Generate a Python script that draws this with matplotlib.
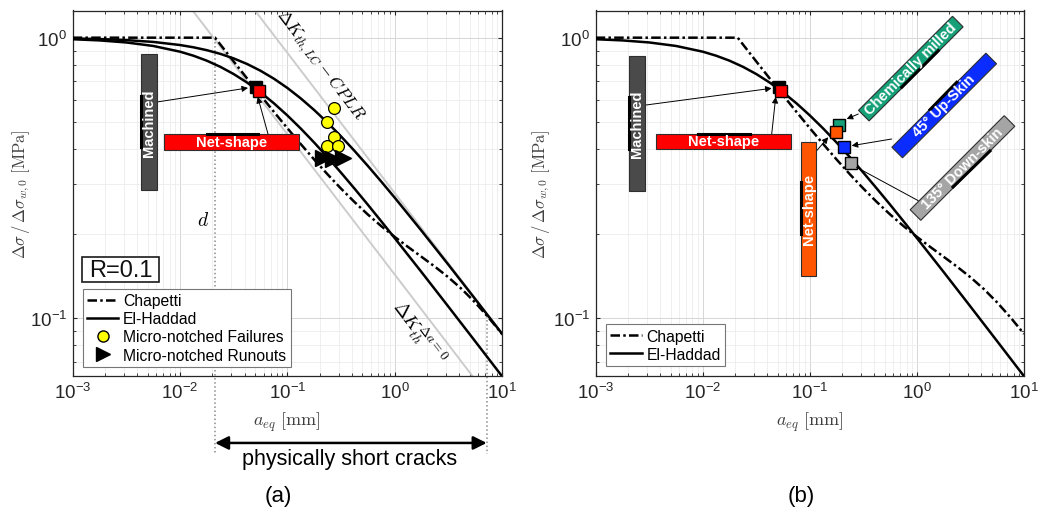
import numpy as np
import matplotlib
matplotlib.use('Agg')
import matplotlib.pyplot as plt
from matplotlib.patches import Rectangle
from matplotlib.lines import Line2D
from matplotlib.ticker import LogLocator, NullFormatter

plt.rcParams['font.family'] = ['Liberation Sans', 'DejaVu Sans']
plt.rcParams['mathtext.fontset'] = 'cm'

# ---------------- data ----------------
a_eq = [0.001, 0.001778, 0.003162, 0.005623, 0.01, 0.013335, 0.01778, 0.023714,
        0.03162, 0.04217, 0.05623, 0.07499, 0.1, 0.13335, 0.1778, 0.23714,
        0.3162, 0.4217, 0.5623, 0.7499, 1.0, 1.778, 3.162, 5.623, 10.0]
el_haddad_lower = [0.9873, 0.9778, 0.9615, 0.9344, 0.8914, 0.8624, 0.8278, 0.7874,
                   0.7418, 0.6918, 0.6385, 0.5834, 0.5282, 0.4743, 0.4228, 0.3746,
                   0.3302, 0.2899, 0.2538, 0.2215, 0.1930, 0.1460, 0.1100, 0.0827, 0.0621]
el_haddad_upper = [0.9937, 0.9888, 0.9803, 0.9658, 0.9415, 0.9241, 0.9024, 0.8757,
                   0.8435, 0.8057, 0.7623, 0.7140, 0.6620, 0.6075, 0.5522, 0.4975,
                   0.4448, 0.3951, 0.3490, 0.3069, 0.2690, 0.2050, 0.1552, 0.1170, 0.0880]
chapetti_x = [0.001, 0.0212, 0.0237, 0.03162, 0.04217, 0.05623, 0.07499, 0.1, 0.13335,
              0.1778, 0.23714, 0.3162, 0.4217, 0.5623, 0.7499, 1.0, 1.3335, 1.778,
              2.371, 3.162, 4.217, 5.623, 7.499, 10.0]
chapetti_y = [1.0, 1.0, 0.9465, 0.8224, 0.7154, 0.6232, 0.5439, 0.4758, 0.4175,
              0.3678, 0.3255, 0.2897, 0.2596, 0.2342, 0.2129, 0.1949, 0.1794, 0.1655,
              0.1526, 0.1399, 0.1270, 0.1137, 0.1005, 0.0879]
dk_th0_x = [0.0131, 5.3]
dk_th0_y = [1.25, 0.0622]
dk_lc_x = [0.0499, 10.0]
dk_lc_y = [1.25, 0.0883]
d_intrinsic = 0.0212
short_crack_end = 7.2

fail_x = [0.2715, 0.2339, 0.274, 0.2355, 0.2985]
fail_y = [0.5616, 0.5006, 0.4416, 0.412, 0.410]
runout_x = [0.214, 0.265, 0.333]
runout_y = [0.3715, 0.368, 0.3715]

machined_pt = (0.051, 0.668)
netshape_pt = (0.054, 0.644)
chem_pt = (0.188, 0.489)
netshape2_pt = (0.174, 0.462)
up45_pt = (0.210, 0.409)
down135_pt = (0.241, 0.357)

# ---------------- figure ----------------
W, H = 1040, 510
fig = plt.figure(figsize=(W / 100, H / 100), dpi=100)
axL = fig.add_axes([72.7 / W, (H - 377) / H, 429.3 / W, 365.5 / H])
axR = fig.add_axes([595.7 / W, (H - 377) / H, 428.3 / W, 365.5 / H])

DASHDOT = (0, (3.8, 1.3, 1.0, 1.3))
LW = 1.8
SQ = 8.2

for ax in (axL, axR):
    ax.set_xscale('log')
    ax.set_yscale('log')
    ax.set_xlim(1e-3, 10)
    ax.set_ylim(0.0622, 1.25)
    ax.xaxis.set_major_locator(LogLocator(base=10, numticks=10))
    ax.xaxis.set_minor_locator(LogLocator(base=10, subs=np.arange(2, 10), numticks=10))
    ax.yaxis.set_major_locator(LogLocator(base=10, numticks=10))
    ax.yaxis.set_minor_locator(LogLocator(base=10, subs=np.arange(2, 10), numticks=10))
    ax.xaxis.set_minor_formatter(NullFormatter())
    ax.yaxis.set_minor_formatter(NullFormatter())
    ax.grid(True, which='major', color='#d6d6d6', lw=0.7)
    ax.grid(True, which='minor', color='#ececec', lw=0.6)
    ax.set_axisbelow(True)
    ax.tick_params(which='both', direction='in', top=True, right=True,
                   colors='#262626', labelsize=13.5, pad=4)
    ax.tick_params(which='major', length=3.2, width=0.8)
    ax.tick_params(which='minor', length=2.2, width=0.6)
    for s in ax.spines.values():
        s.set_color('#262626')
        s.set_linewidth(0.9)
    ax.plot(chapetti_x, chapetti_y, color='k', lw=LW, ls=DASHDOT, zorder=3)
    ax.plot(a_eq, el_haddad_lower, color='k', lw=LW, zorder=3)

# left only curves
axL.plot(a_eq, el_haddad_upper, color='k', lw=LW, zorder=3)
axL.plot(dk_th0_x, dk_th0_y, color='#cccccc', lw=1.4, zorder=2)
axL.plot(dk_lc_x, dk_lc_y, color='#cccccc', lw=1.4, zorder=2)

# dotted verticals
axL.plot([d_intrinsic, d_intrinsic], [1.0, 0.0328], color='#8c8c8c', ls=':', lw=1.1,
         clip_on=False, zorder=2)
axL.plot([short_crack_end, short_crack_end], [0.102, 0.0328], color='#8c8c8c', ls=':',
         lw=1.1, clip_on=False, zorder=2)
axL.annotate('', xy=(short_crack_end, 0.0359), xytext=(d_intrinsic, 0.0359),
             xycoords='data', textcoords='data', annotation_clip=False,
             arrowprops=dict(arrowstyle='<|-|>', color='k', lw=1.8, mutation_scale=20,
                             shrinkA=0, shrinkB=0))

# markers left
axL.plot(fail_x, fail_y, 'o', ms=8.5, mfc='#ffff00', mec='k', mew=0.9, ls='none', zorder=5)
axL.plot(runout_x, runout_y, '>', ms=11, mfc='k', mec='k', ls='none', zorder=5)
for ax in (axL, axR):
    ax.plot(*machined_pt, 's', ms=SQ + 0.8, mfc='k', mec='k', zorder=6)
    ax.plot(*netshape_pt, 's', ms=SQ, mfc='#ff0000', mec='k', mew=1.0, zorder=7)
axR.plot(*chem_pt, 's', ms=SQ, mfc='#15a078', mec='k', mew=1.0, zorder=6)
axR.plot(*netshape2_pt, 's', ms=SQ, mfc='#ff5500', mec='k', mew=1.0, zorder=7)
axR.plot(*up45_pt, 's', ms=SQ, mfc='#0b2cff', mec='k', mew=1.0, zorder=6)
axR.plot(*down135_pt, 's', ms=SQ, mfc='#a5a5a5', mec='k', mew=1.0, zorder=6)

# legends
hC = Line2D([], [], color='k', lw=LW, ls=DASHDOT)
hE = Line2D([], [], color='k', lw=LW)
hF = Line2D([], [], marker='o', ms=8, mfc='#ffff00', mec='k', ls='none')
hR = Line2D([], [], marker='>', ms=10.5, mfc='k', mec='k', ls='none')
legkw = dict(loc='lower left', borderaxespad=0, fontsize=11.3, frameon=True,
             fancybox=False, edgecolor='#777777', framealpha=1, handlelength=2.0,
             handletextpad=0.3, labelspacing=0.2, borderpad=0.28)
lg = axL.legend([hC, hE, hF, hR], ['Chapetti', 'El-Haddad', 'Micro-notched Failures',
                                   'Micro-notched Runouts'],
                bbox_to_anchor=(10 / 429.3, 9 / 365.5), **legkw)
lg.get_frame().set_linewidth(0.8)
lg2 = axR.legend([hC, hE], ['Chapetti', 'El-Haddad'],
                 bbox_to_anchor=(10.3 / 428.3, 9.7 / 365.5), **legkw)
lg2.get_frame().set_linewidth(0.8)


# ---------------- helpers in image pixels ----------------
def img2in(X, Y):
    return X / 100.0, (H - Y) / 100.0


def label_box(cx, cy, L, T, ang, fc, text, seg):
    x, y = img2in(cx, cy)
    r = Rectangle((x - L / 200.0, y - T / 200.0), L / 100.0, T / 100.0, angle=ang,
                  rotation_point='center', transform=fig.dpi_scale_trans,
                  fc=fc, ec='#2e2e2e', lw=0.8, zorder=3)
    fig.add_artist(r)
    x1, y1 = img2in(seg[0], seg[1])
    x2, y2 = img2in(seg[2], seg[3])
    fig.add_artist(Line2D([x1, x2], [y1, y2], transform=fig.dpi_scale_trans,
                          color='k', lw=2.2, zorder=4))
    fig.text(x, y, text, transform=fig.dpi_scale_trans, rotation=ang,
             rotation_mode='anchor', ha='center', va='center', color='white',
             fontsize=10.5, fontweight='bold', zorder=5)


def arrow(ax, head, tail_img, style='-|>'):
    ax.annotate('', xy=head, xycoords='data', xytext=(tail_img[0], H - tail_img[1]),
                textcoords='figure pixels', annotation_clip=False,
                arrowprops=dict(arrowstyle=style, color='k', lw=0.7, mutation_scale=9,
                                shrinkA=0, shrinkB=0), zorder=8)


# left boxes
label_box(148.7, 122.9, 135.7, 16, 90, '#4a4a4a', 'Machined', (140.7, 97, 140.7, 148))
label_box(231.5, 143, 135, 16, 0, '#ff0000', 'Net-shape', (207, 135, 258, 135))
arrow(axL, (0.043, 0.662), (157, 103))
arrow(axL, (0.053, 0.615), (268, 135))

# right boxes
label_box(637.2, 124.2, 135, 15.7, 90, '#4a4a4a', 'Machined', (629.3, 98, 629.3, 150))
label_box(723.3, 142.5, 134.7, 15, 0, '#ff0000', 'Net-shape', (698, 135, 750, 135))
label_box(808.5, 209.7, 134, 15, 90, '#ff5500', 'Net-shape', (801, 183, 801, 235))
label_box(910.8, 69.6, 133, 15, 45, '#15a078', 'Chemically milled', (901.7, 88.3, 938.3, 51.7))
label_box(944.2, 106.5, 133, 15, 45, '#0b2cff', '45° Up-Skin', (930, 110.7, 956.7, 83.3))
label_box(962.5, 169.0, 133, 15, 45, '#a5a5a5', '135° Down-skin', (953, 188, 990, 152))
arrow(axR, (0.044, 0.66), (646, 106))
arrow(axR, (0.048, 0.615), (771.7, 135))
arrow(axR, (0.1485, 0.4416), (816.7, 151.7))
arrow(axR, (0.2207, 0.513), (858.3, 115))
arrow(axR, (0.2456, 0.412), (891.7, 140))
arrow(axR, (0.2735, 0.345), (918.3, 201.7), style='-')

# R=0.1 box
rx, ry = img2in(82, 283)
fig.add_artist(Rectangle((rx, ry), 0.77, 0.25, transform=fig.dpi_scale_trans,
                         fc='white', ec='#1a1a1a', lw=1.2, zorder=3))
fig.text(*img2in(120.5, 271), 'R=0.1', transform=fig.dpi_scale_trans, ha='center',
         va='center', fontsize=17, color='#111111', zorder=4)

# in-plot math texts
fig.text(*img2in(203, 221), '$d$', transform=fig.dpi_scale_trans, ha='center',
         va='center', fontsize=14)
fig.text(*img2in(319, 66), r'$\Delta K_{th,LC}-CPLR$', transform=fig.dpi_scale_trans,
         ha='center', va='center', fontsize=12.5, rotation=-52.8, rotation_mode='anchor')
fig.text(*img2in(419, 333), r'$\Delta K_{th}^{\Delta a=0}$', transform=fig.dpi_scale_trans,
         ha='center', va='center', fontsize=13.5, rotation=-52.8, rotation_mode='anchor')

# axis labels
for cx in (287, 809.3):
    fig.text(*img2in(cx, 422.7), r'$a_{eq}\ [\mathrm{mm}]$', transform=fig.dpi_scale_trans,
             ha='center', va='center', fontsize=13, color='#404040')
for cx in (21, 541):
    fig.text(*img2in(cx, 194), r'$\Delta\sigma\,/\,\Delta\sigma_{w,0}\ [\mathrm{MPa}]$',
             transform=fig.dpi_scale_trans, ha='center', va='center', fontsize=12,
             rotation=90, color='#404040')

fig.text(*img2in(350, 460), 'physically short cracks', transform=fig.dpi_scale_trans,
         ha='center', va='center', fontsize=15.5)
fig.text(*img2in(278, 497), '(a)', transform=fig.dpi_scale_trans, ha='center',
         va='center', fontsize=16)
fig.text(*img2in(801.7, 497), '(b)', transform=fig.dpi_scale_trans, ha='center',
         va='center', fontsize=16)

fig.savefig('out.png', dpi=100)
